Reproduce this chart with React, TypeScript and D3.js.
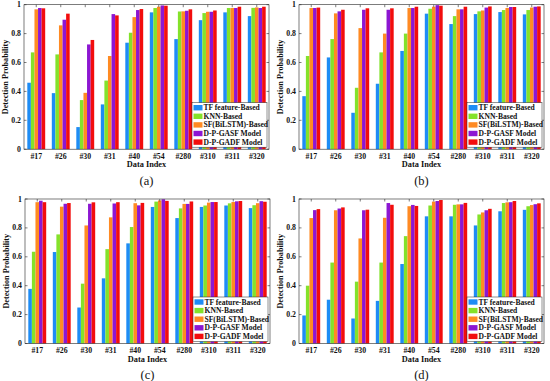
import * as d3 from 'd3';

const categories = ['#17', '#26', '#30', '#31', '#40', '#54', '#280', '#310', '#311', '#320'];
const seriesNames = ['TF feature-Based', 'KNN-Based', 'SF(BiLSTM)-Based', 'D-P-GASF Model', 'D-P-GADF Model'];
const seriesColors = ['#1e8cf5', '#84e22a', '#ff8a22', '#8c16d2', '#f20d0d'];
const yTicks = [0, 0.2, 0.4, 0.6, 0.8, 1];
const panelLabels = ['(a)', '(b)', '(c)', '(d)'];

// values per panel: one row per category, one column per series
const valuesA = [
  [0.46, 0.67, 0.968, 0.977, 0.975],
  [0.388, 0.656, 0.857, 0.896, 0.938],
  [0.153, 0.34, 0.39, 0.725, 0.756],
  [0.31, 0.475, 0.645, 0.935, 0.926],
  [0.737, 0.806, 0.914, 0.963, 0.97],
  [0.947, 0.977, 0.986, 0.995, 0.993],
  [0.762, 0.953, 0.954, 0.958, 0.968],
  [0.893, 0.942, 0.951, 0.951, 0.96],
  [0.947, 0.977, 0.977, 0.977, 0.986],
  [0.921, 0.978, 0.981, 0.977, 0.986],
];
const valuesB = [
  [0.367, 0.645, 0.977, 0.977, 0.98],
  [0.635, 0.762, 0.94, 0.954, 0.965],
  [0.252, 0.425, 0.838, 0.965, 0.975],
  [0.453, 0.67, 0.8, 0.965, 0.975],
  [0.68, 0.8, 0.977, 0.977, 0.986],
  [0.938, 0.972, 0.986, 0.997, 0.993],
  [0.866, 0.921, 0.968, 0.968, 0.986],
  [0.935, 0.954, 0.96, 0.98, 0.988],
  [0.949, 0.963, 0.977, 0.984, 0.984],
  [0.933, 0.963, 0.98, 0.986, 0.988],
];
const valuesC = [
  [0.378, 0.635, 0.978, 0.988, 0.978],
  [0.633, 0.755, 0.947, 0.967, 0.972],
  [0.249, 0.414, 0.817, 0.967, 0.977],
  [0.451, 0.653, 0.873, 0.969, 0.978],
  [0.693, 0.806, 0.971, 0.956, 0.973],
  [0.945, 0.982, 0.99, 0.998, 0.987],
  [0.868, 0.935, 0.966, 0.966, 0.983],
  [0.945, 0.955, 0.975, 0.979, 0.979],
  [0.955, 0.97, 0.979, 0.984, 0.986],
  [0.937, 0.957, 0.971, 0.985, 0.981],
];
const valuesD = [
  [0.194, 0.4, 0.868, 0.923, 0.93],
  [0.303, 0.56, 0.922, 0.934, 0.942],
  [0.173, 0.428, 0.727, 0.922, 0.926],
  [0.295, 0.56, 0.87, 0.972, 0.96],
  [0.55, 0.743, 0.95, 0.959, 0.952],
  [0.88, 0.955, 0.982, 0.986, 0.993],
  [0.88, 0.96, 0.963, 0.963, 0.973],
  [0.817, 0.893, 0.907, 0.922, 0.932],
  [0.915, 0.972, 0.977, 0.978, 0.986],
  [0.925, 0.95, 0.958, 0.964, 0.97],
];
const panelValues = [valuesA, valuesB, valuesC, valuesD];

const origins = [
  { x: 24, y: 4.7 },
  { x: 299, y: 4.7 },
  { x: 25, y: 199 },
  { x: 299, y: 199 },
];

const W = 245;
const H = 144.5;
const font = '"Liberation Serif", "Times New Roman", serif';
const axisColor = '#262626';

const Panel = ({ values, label, ox, oy }: { values: number[][]; label: string; ox: number; oy: number }) => {
  const x = d3.scaleBand<string>().domain(categories).range([0, W]).paddingInner(0.27).paddingOuter(0.135);
  const xs = d3.scaleBand<string>().domain(seriesNames).range([0, x.bandwidth()]);
  const y = d3.scaleLinear().domain([0, 1]).range([H, 0]);

  const legX = W - 77;
  const legY = H - 46.5;
  const rowH = 8.6;

  return (
    <g transform={`translate(${ox},${oy})`}>
      {categories.map((c, i) => (
        <g key={c} transform={`translate(${x(c)},0)`}>
          {seriesNames.map((s, j) => (
            <rect
              key={s}
              x={xs(s)}
              y={y(values[i][j])}
              width={xs.bandwidth()}
              height={H - y(values[i][j])}
              fill={seriesColors[j]}
            />
          ))}
        </g>
      ))}
      <rect x={0} y={0} width={W} height={H} fill="none" stroke={axisColor} strokeWidth={0.6} />
      {yTicks.map((t) => (
        <g key={t}>
          <line x1={0} x2={2.5} y1={y(t)} y2={y(t)} stroke={axisColor} strokeWidth={0.6} />
          <line x1={W} x2={W - 2.5} y1={y(t)} y2={y(t)} stroke={axisColor} strokeWidth={0.6} />
          <text x={-3} y={y(t)} dy="0.33em" textAnchor="end" fontSize={7.8} fontWeight="bold" fontFamily={font} fill="#111">
            {t}
          </text>
        </g>
      ))}
      {categories.map((c) => {
        const cx = (x(c) ?? 0) + x.bandwidth() / 2;
        return (
          <g key={c}>
            <line x1={cx} x2={cx} y1={0} y2={2.5} stroke={axisColor} strokeWidth={0.6} />
            <text x={cx} y={H + 9.7} textAnchor="middle" fontSize={7.8} fontWeight="bold" fontFamily={font} fill="#111">
              {c}
            </text>
          </g>
        );
      })}
      <text x={W / 2} y={H + 18.3} textAnchor="middle" fontSize={8.3} fontWeight="bold" fontFamily={font} fill="#111">
        Data Index
      </text>
      <text
        transform={`translate(${-16},${H / 2}) rotate(-90)`}
        textAnchor="middle"
        fontSize={8.2}
        fontWeight="bold"
        fontFamily={font}
        fill="#111"
      >
        Detection Probability
      </text>
      <text x={W / 2} y={H + 35.5} textAnchor="middle" fontSize={12.5} fontFamily={font} fill="#111">
        {label}
      </text>
      <g transform={`translate(${legX},${legY})`}>
        <rect x={0} y={0} width={75} height={44.5} fill="#fff" stroke={axisColor} strokeWidth={0.5} />
        {seriesNames.map((s, j) => (
          <g key={s} transform={`translate(0,${5 + j * rowH})`}>
            <rect x={1.5} y={-2.7} width={9} height={5.4} fill={seriesColors[j]} />
            <text x={11.5} y={0} dy="0.34em" fontSize={7.6} fontWeight="bold" fontFamily={font} fill="#111">
              {s}
            </text>
          </g>
        ))}
      </g>
    </g>
  );
};

export default function App() {
  return (
    <svg width={550} height={381} style={{ position: 'absolute', left: 0, top: 0, background: '#fff' }}>
      {panelValues.map((v, i) => (
        <Panel key={i} values={v} label={panelLabels[i]} ox={origins[i].x} oy={origins[i].y} />
      ))}
    </svg>
  );
}
